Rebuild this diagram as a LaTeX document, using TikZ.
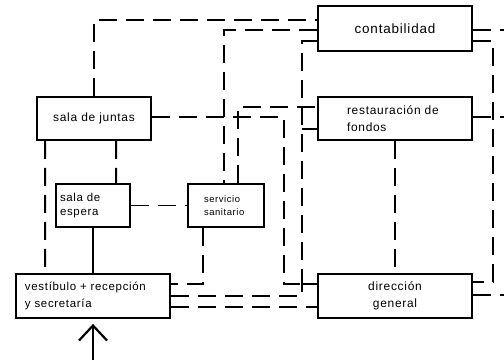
\documentclass[tikz,border=0pt]{standalone}
\usepackage{fontspec}
\setmainfont{Liberation Sans}[LetterSpace=6]
\usetikzlibrary{arrows.meta,positioning}

\begin{document}
\begin{tikzpicture}[
    x=1bp, y=-1bp,
    box/.style={rectangle, draw, line width=1.8bp, inner sep=0pt, minimum width=154bp, minimum height=44bp, font=\fontsize{12}{17}\selectfont},
    link/.style={line width=1.8bp, dash pattern=on 18bp off 9bp},
]
\useasboundingbox (0,0) rectangle (504,360);

\node[box, minimum width=114bp, minimum height=43bp] (juntas) at (94,118.5) {sala de juntas};
\node[box, minimum height=45bp, font=\fontsize{13.5}{17}\selectfont] (conta) at (395,28.5) {contabilidad};
\node[box, minimum height=43bp, text width=96bp, align=left] (fondos) at (395,118.5) {restauración~de\\fondos};
\node[box, minimum width=74bp, minimum height=43bp, text width=66bp, align=left, font=\fontsize{11.5}{14}\selectfont] (espera) at (93,205.5) {sala de\\espera};
\node[box, minimum width=76bp, minimum height=43bp, text width=44bp, align=left, font=\fontsize{9.5}{13}\selectfont] (sanit) at (226,205.5) {servicio\\sanitario};
\node[box, text width=136bp, align=left, font=\fontsize{11.5}{17}\selectfont] (vest) at (93,296) {vestíbulo~+~recepción\\y secretaría};
\node[box, align=center] (direc) at (395,296) {dirección\\general};
\coordinate (entry) at (93,360);

\draw[link] (juntas.north) |- ([yshift=8.5bp]conta.west);
\draw[link] ([yshift=-1.5bp]conta.west) -| ([xshift=-2bp]sanit.north);
\draw[link] ([yshift=1.5bp]juntas.east) -- ++(132,0) |- ([yshift=12bp]direc.west);
\draw[link] ([xshift=12bp]sanit.north) |- ([yshift=11.5bp]fondos.west);
\draw[link] ([yshift=-12.5bp]conta.west) -- ++(-15,0) |- ([yshift=12bp]direc.west);
\draw[link] (vest.east) -- ([xshift=-15bp]direc.west) |- ([yshift=12bp]direc.west);
\draw[link] ([yshift=-10.5bp]fondos.west) -- ++(-15,0);
\draw[link] (fondos.south) -- (direc.north);
\draw[link] ([yshift=-12.5bp]conta.east) -- ++(20,0) |- ([yshift=14bp]direc.east);
\draw[link] ([yshift=-1.5bp]conta.east) -- ++(32,0);
\draw[link] ([yshift=1.5bp]fondos.east) -- ++(32,0);
\draw[link] ([yshift=1bp]direc.east) -- ++(32,0);
\draw[link] ([xshift=9bp]juntas.south west) -- ([xshift=30bp]vest.north west);
\draw[link] ([xshift=80bp]juntas.south west) -- ([xshift=61bp]espera.north west);
\draw[line width=1.8bp] (espera.south) -- (vest.north);
\draw[link] (espera) -- (sanit);
\draw[link] ([xshift=-23bp]sanit.south) |- ([yshift=12bp]vest.east);
\draw[link] ([yshift=-11bp]vest.east) -- ([yshift=-11bp]direc.west);

\draw[line width=2.2bp, -{Straight Barb[length=15bp, width=28bp, line width=2.2bp]}] (entry) -- ([yshift=-5bp]vest.south);
\end{tikzpicture}
\end{document}
